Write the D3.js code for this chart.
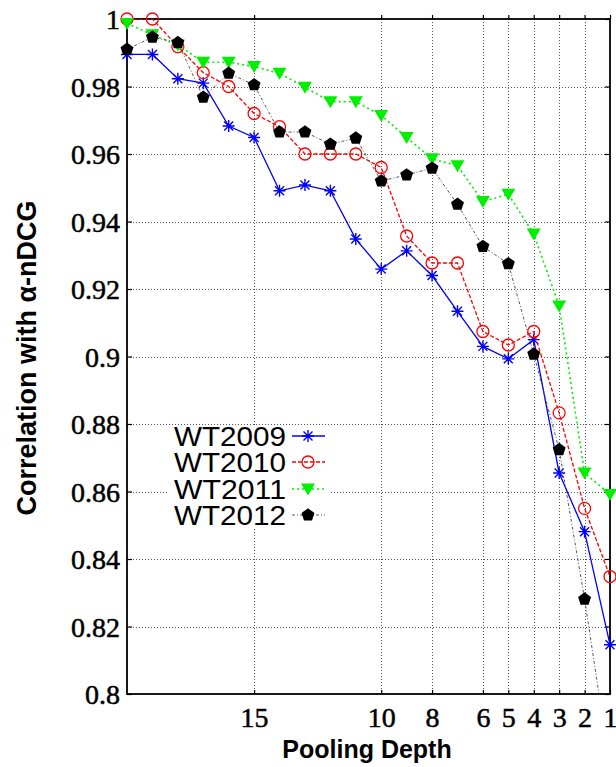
<!DOCTYPE html>
<html>
<head>
<meta charset="utf-8">
<script src="https://cdn.jsdelivr.net/npm/d3@7"></script>
<style>
  body { margin: 0; background: #fff; }
  svg { display: block; }
</style>
</head>
<body>
<svg id="chart" width="616" height="767"></svg>
<script>
// pooling depths, left to right
const depths = [20, 19, 18, 17, 16, 15, 14, 13, 12, 11, 10, 9, 8, 7, 6, 5, 4, 3, 2, 1];
const xTickValues = [15, 10, 8, 6, 5, 4, 3, 2, 1];
const yTickValues = [0.8, 0.82, 0.84, 0.86, 0.88, 0.9, 0.92, 0.94, 0.96, 0.98, 1];

const wt2009 = [0.9895, 0.9895, 0.9823, 0.981, 0.9683, 0.9649, 0.9491, 0.9508, 0.9491, 0.9348,
                0.9259, 0.9313, 0.924, 0.9134, 0.903, 0.8993, 0.905, 0.8655, 0.8481, 0.8146];
const wt2010 = [1.0, 1.0, 0.9918, 0.9841, 0.98, 0.972, 0.9681, 0.96, 0.96, 0.96,
                0.956, 0.9357, 0.9277, 0.9277, 0.9074, 0.9034, 0.9074, 0.8833, 0.855, 0.8348];
const wt2011 = [0.9987, 0.9953, 0.9923, 0.9872, 0.9872, 0.9859, 0.9839, 0.9798, 0.9755, 0.9755,
                0.9714, 0.9649, 0.9586, 0.9565, 0.9459, 0.9481, 0.9363, 0.915, 0.8655, 0.8591];
const wt2012 = [0.991, 0.9946, 0.993, 0.9768, 0.9839, 0.9805, 0.9665, 0.9665, 0.9629, 0.9647,
                0.952, 0.9538, 0.9558, 0.9451, 0.9326, 0.9275, 0.9007, 0.8724, 0.8281, 0.7785];

const seriesNames = ["WT2009", "WT2010", "WT2011", "WT2012"];

const series = [
  {name: seriesNames[0], values: wt2009, color: "#0000ff", dash: null, width: 1.3, marker: "star"},
  {name: seriesNames[1], values: wt2010, color: "#ff0000", dash: "4,2", width: 1.3, marker: "circle"},
  {name: seriesNames[2], values: wt2011, color: "#00ee00", dash: "2,3", width: 1.6, marker: "triangle"},
  {name: seriesNames[3], values: wt2012, color: "#000000", dash: "3,2,1,2", width: 0.9, marker: "pentagon", lineColor: "#444"}
];

const plotL = 127, plotR = 610, plotT = 19, plotB = 694;
const serif = "Liberation Serif";

const svg = d3.select("#chart");

const x = d3.scaleLinear().domain([20, 1]).range([plotL, plotR]);
const y = d3.scaleLinear().domain([0.8, 1]).range([plotB, plotT]);

svg.append("defs").append("clipPath").attr("id", "plotclip")
  .append("rect").attr("x", plotL).attr("y", plotT).attr("width", plotR - plotL).attr("height", plotB - plotT);

// grid
const grid = svg.append("g").attr("stroke", "#555").attr("stroke-width", 1).attr("stroke-dasharray", "1,2");
grid.selectAll("line.v").data(xTickValues.filter(d => d !== 1)).enter().append("line")
  .attr("x1", d => Math.round(x(d)) + 0.5).attr("x2", d => Math.round(x(d)) + 0.5)
  .attr("y1", plotT).attr("y2", plotB);
grid.selectAll("line.h").data(yTickValues.filter(d => d > 0.8 && d < 1)).enter().append("line")
  .attr("x1", plotL).attr("x2", plotR)
  .attr("y1", d => Math.round(y(d)) + 0.5).attr("y2", d => Math.round(y(d)) + 0.5);

// axes
const xAxis = d3.axisBottom(x).tickValues(xTickValues).tickSize(-4).tickFormat(d3.format("d"));
const yAxis = d3.axisLeft(y).tickValues(yTickValues).tickSize(-5).tickFormat(d => d === 1 ? "1" : d3.format("")(+d.toFixed(2)));

const gx = svg.append("g").attr("transform", `translate(0,${plotB})`).call(xAxis);
const gy = svg.append("g").attr("transform", `translate(${plotL},0)`).call(yAxis);
// right and top ticks
svg.append("g").attr("transform", `translate(${plotR},0)`)
  .call(d3.axisRight(y).tickValues(yTickValues).tickSize(-5).tickFormat(""));
svg.append("g").attr("transform", `translate(0,${plotT})`)
  .call(d3.axisTop(x).tickValues(xTickValues).tickSize(4).tickFormat(""));

svg.selectAll(".domain").remove();
svg.selectAll(".tick line").attr("stroke", "#000").attr("stroke-width", 1.2);

gx.attr("font-family", serif).attr("font-size", 28);
gy.attr("font-family", serif).attr("font-size", 28);
gx.selectAll(".tick text")
  .style("font-family", serif).style("font-size", "28px")
  .attr("fill", "#000").attr("y", 13).attr("dy", "0.71em")
  .attr("stroke", "#000").attr("stroke-width", 0.5);
gy.selectAll(".tick text")
  .style("font-family", serif).style("font-size", "28px")
  .attr("fill", "#000").attr("x", -7).attr("dy", "0.34em")
  .attr("stroke", "#000").attr("stroke-width", 0.5);

// frame
svg.append("rect").attr("x", plotL).attr("y", plotT).attr("width", plotR - plotL).attr("height", plotB - plotT)
  .attr("fill", "none").attr("stroke", "#000").attr("stroke-width", 1.8);

// legend background
svg.append("rect").attr("x", 168).attr("y", 425).attr("width", 162).attr("height", 104).attr("fill", "#fff");

// markers
function drawMarker(g, type, color) {
  if (type === "star") {
    const r = 6;
    g.append("path")
      .attr("d", `M${-r},0H${r}M0,${-r}V${r}M${-r*0.75},${-r*0.75}L${r*0.75},${r*0.75}M${-r*0.75},${r*0.75}L${r*0.75},${-r*0.75}`)
      .attr("stroke", color).attr("stroke-width", 1.4).attr("fill", "none");
  } else if (type === "circle") {
    g.append("circle").attr("r", 6).attr("fill", "none").attr("stroke", color).attr("stroke-width", 1.3);
  } else if (type === "triangle") {
    g.append("path").attr("d", "M-7,-5.5L7,-5.5L0,6.5Z").attr("fill", color);
  } else if (type === "pentagon") {
    const pts = d3.range(5).map(i => {
      const a = -Math.PI / 2 + i * 2 * Math.PI / 5;
      return [6.8 * Math.cos(a), 6.8 * Math.sin(a)];
    });
    g.append("path").attr("d", "M" + pts.map(p => p.join(",")).join("L") + "Z").attr("fill", color);
  }
}

const line = d3.line().x((d, i) => x(depths[i])).y(d => y(d));

series.forEach(s => {
  svg.append("path").datum(s.values)
    .attr("d", line)
    .attr("clip-path", "url(#plotclip)")
    .attr("fill", "none")
    .attr("stroke", s.lineColor || s.color)
    .attr("stroke-width", s.width)
    .attr("stroke-dasharray", s.dash);
  s.values.forEach((v, i) => {
    if (v < 0.8) return;
    const g = svg.append("g").attr("transform", `translate(${x(depths[i])},${y(v)})`);
    drawMarker(g, s.marker, s.color);
  });
});

// legend
const legendY = [436, 462, 489, 515];
series.forEach((s, i) => {
  const ly = legendY[i];
  svg.append("text").attr("x", 286).attr("y", ly).attr("dy", "0.36em")
    .attr("text-anchor", "end")
    .attr("font-family", "'Liberation Sans', Arial, sans-serif")
    .attr("font-size", 28).attr("fill", "#000")
    .attr("textLength", 112).attr("lengthAdjust", "spacingAndGlyphs")
    .text(s.name);
  svg.append("line").attr("x1", 292).attr("x2", 325).attr("y1", ly).attr("y2", ly)
    .attr("stroke", s.lineColor || s.color).attr("stroke-width", s.width)
    .attr("stroke-dasharray", s.dash);
  drawMarker(svg.append("g").attr("transform", `translate(308,${ly})`), s.marker, s.color);
});

// axis titles
svg.append("text").attr("x", 367).attr("y", 758).attr("text-anchor", "middle")
  .attr("font-family", "'Liberation Sans', Arial, sans-serif").attr("font-weight", "bold")
  .attr("font-size", 25).attr("fill", "#000").text("Pooling Depth");

svg.append("text").attr("transform", "translate(36,358) rotate(-90)").attr("text-anchor", "middle")
  .attr("font-family", "'Liberation Sans', Arial, sans-serif").attr("font-weight", "bold")
  .attr("font-size", 27).attr("fill", "#000").text("Correlation with α-nDCG");
</script>
</body>
</html>
